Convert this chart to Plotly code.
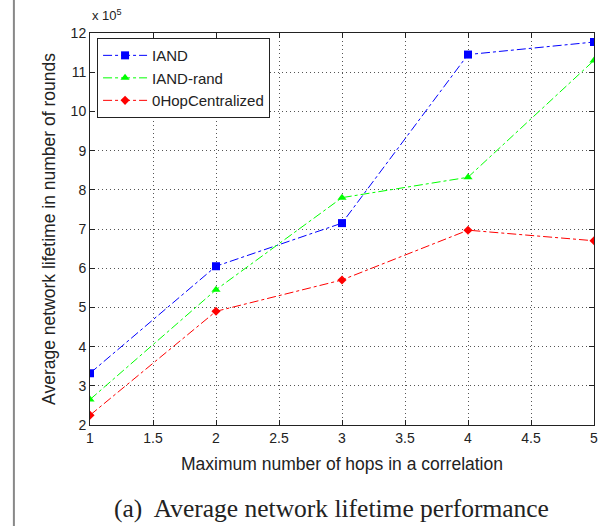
import plotly.graph_objects as go

hops = [1, 2, 3, 4, 5]
iand = [3.32, 6.05, 7.15, 11.45, 11.77]
iand_rand = [2.65, 5.45, 7.8, 8.32, 11.3]
hop0 = [2.25, 4.9, 5.7, 6.97, 6.7]
xticks = [1, 1.5, 2, 2.5, 3, 3.5, 4, 4.5, 5]
yticks = [2, 3, 4, 5, 6, 7, 8, 9, 10, 11, 12]

fig = go.Figure()
fig.add_trace(go.Scatter(x=hops, y=iand, name="IAND", mode="lines+markers",
                         line=dict(color="#0000ff", dash="dashdot", width=1),
                         marker=dict(symbol="square", size=8, color="#0000ff")))
fig.add_trace(go.Scatter(x=hops, y=iand_rand, name="IAND-rand", mode="lines+markers",
                         line=dict(color="#00ff00", dash="dashdot", width=1),
                         marker=dict(symbol="triangle-up", size=8, color="#00ff00")))
fig.add_trace(go.Scatter(x=hops, y=hop0, name="0HopCentralized", mode="lines+markers",
                         line=dict(color="#ff0000", dash="dashdot", width=1),
                         marker=dict(symbol="diamond", size=7, color="#ff0000")))

font = dict(family="Liberation Sans, Arial, sans-serif", size=14, color="#222")
title_font = dict(family="Liberation Sans, Arial, sans-serif", size=17.5, color="#222")
axis_common = dict(showline=True, linecolor="#222", linewidth=1, mirror="ticks",
                   ticks="inside", ticklen=5, tickcolor="#222",
                   showgrid=True, gridcolor="#555", griddash="1px,3px", gridwidth=1,
                   zeroline=False, tickfont=font)
fig.update_xaxes(range=[1, 5], tickvals=xticks, ticktext=[f"{v:g}" for v in xticks],
                 title=dict(text="Maximum number of hops in a correlation", font=title_font, standoff=12),
                 **axis_common)
fig.update_yaxes(range=[2, 12], tickvals=yticks, ticktext=[str(v) for v in yticks],
                 title=dict(text="Average network lifetime in number of rounds", font=title_font, standoff=10),
                 **axis_common)

fig.update_layout(
    width=611, height=526,
    margin=dict(l=90, r=17, t=33, b=101),
    paper_bgcolor="white", plot_bgcolor="white",
    showlegend=True,
    legend=dict(x=0.014, y=0.987, xanchor="left", yanchor="top",
                bgcolor="white", bordercolor="#222", borderwidth=1,
                font=dict(family="Liberation Sans, Arial, sans-serif", size=15, color="#222"),
                tracegroupgap=0, itemwidth=44),
    annotations=[
        dict(text="x 10<sup>5</sup>", xref="paper", yref="paper", x=0.0, y=1.02,
             xanchor="left", yanchor="bottom", showarrow=False,
             font=dict(family="Liberation Sans, Arial, sans-serif", size=13, color="#222")),
        dict(text="(a)  Average network lifetime performance", xref="paper", yref="paper",
             x=0.48, y=-0.212, xanchor="center", yanchor="middle", showarrow=False,
             font=dict(family="Liberation Serif, Times New Roman, serif", size=25.5, color="#222")),
    ],
    shapes=[dict(type="line", xref="paper", yref="paper", x0=-0.151, x1=-0.151,
                 y0=-0.26, y1=1.09, line=dict(color="#888", width=2))],
)

fig.write_html("out.html")
